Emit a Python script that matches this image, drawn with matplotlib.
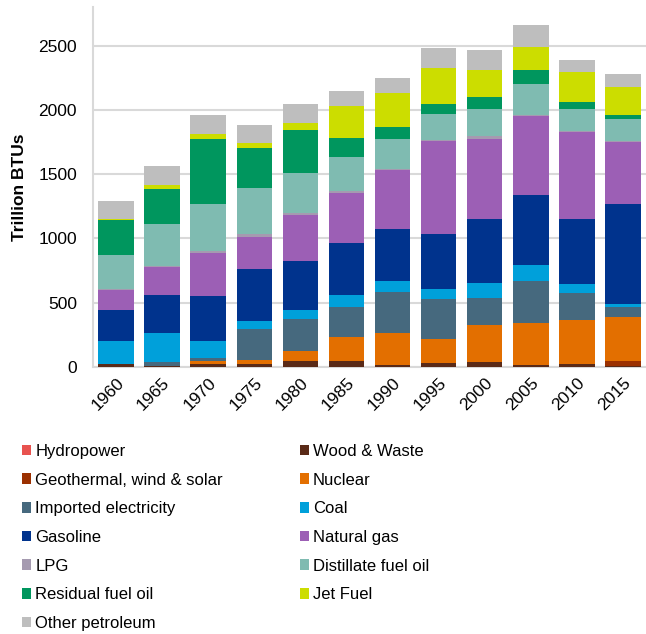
import matplotlib
matplotlib.use("Agg")
import matplotlib.pyplot as plt
import numpy as np

plt.rcParams['font.family'] = ['Liberation Sans', 'DejaVu Sans']

# 年份
years = ['1960', '1965', '1970', '1975', '1980', '1985', '1990', '1995', '2000', '2005', '2010', '2015']

# 各能源消费量 (Trillion BTUs)
hydropower = [0, 0, 0, 0, 0, 0, 0, 0, 0, 0, 0, 0]
wood_waste = [20, 8, 20, 20, 45, 47, 15, 30, 35, 15, 25, 10]
geothermal = [0, 0, 0, 0, 0, 0, 0, 0, 0, 0, 0, 38]
nuclear = [0, 0, 30, 31, 77, 189, 252, 188, 291, 329, 343, 338]
imported_elec = [5, 28, 20, 244, 252, 228, 316, 308, 210, 322, 204, 78]
coal = [175, 231, 132, 60, 69, 98, 83, 77, 119, 129, 73, 23]
gasoline = [245, 290, 350, 409, 379, 401, 406, 430, 498, 539, 508, 777]
natural_gas = [153, 220, 331, 246, 360, 389, 459, 728, 619, 619, 676, 489]
lpg = [5, 10, 18, 26, 18, 18, 8, 5, 25, 5, 5, 5]
distillate = [270, 327, 366, 355, 308, 262, 233, 205, 210, 241, 173, 172]
residual = [269, 269, 510, 311, 339, 150, 98, 78, 91, 109, 55, 33]
jet_fuel = [11, 29, 39, 38, 52, 249, 259, 279, 210, 181, 230, 218]
other_petroleum = [139, 150, 147, 140, 145, 119, 119, 151, 158, 168, 96, 98]

labels = ['Hydropower', 'Wood & Waste', 'Geothermal, wind & solar', 'Nuclear',
          'Imported electricity', 'Coal', 'Gasoline', 'Natural gas', 'LPG',
          'Distillate fuel oil', 'Residual fuel oil', 'Jet Fuel', 'Other petroleum']
series = [hydropower, wood_waste, geothermal, nuclear, imported_elec, coal, gasoline,
          natural_gas, lpg, distillate, residual, jet_fuel, other_petroleum]
colors = ['#E8524F', '#5A2A17', '#9B3000', '#E36F00', '#46697E', '#00A0DA', '#00338D',
          '#9C5FB5', '#A59AB0', '#7FBBB1', '#00965E', '#CCDD00', '#BEBEBE']

fig = plt.figure(figsize=(6.46, 6.34), dpi=100)
ax = fig.add_axes([93 / 646, 1 - 367 / 634, 553 / 646, 360 / 634])

x = np.arange(len(years))
bottom = np.zeros(len(years))
handles = []
for vals, lab, col in zip(series, labels, colors):
    b = ax.bar(x, vals, width=0.77, bottom=bottom, color=col, label=lab, zorder=3)
    handles.append(b)
    bottom += np.array(vals)

ax.set_xlim(-0.5, 11.5)
ax.set_ylim(0, 2800)
ax.set_yticks([0, 500, 1000, 1500, 2000, 2500])
ax.set_xticks(x)
ax.set_xticklabels(years, rotation=45, ha='right', rotation_mode='anchor')
ax.tick_params(axis='both', length=0, labelsize=12.5, colors='#000000')
ax.tick_params(axis='x', pad=6)
ax.tick_params(axis='y', pad=11.5)
ax.yaxis.grid(True, color='#D9D9D9', linewidth=1.5, zorder=0)
ax.set_axisbelow(True)
for s in ['top', 'right']:
    ax.spines[s].set_visible(False)
ax.spines['left'].set_color('#D9D9D9')
ax.spines['left'].set_linewidth(1.5)
ax.spines['bottom'].set_color('#D9D9D9')
ax.spines['bottom'].set_linewidth(1.5)
ax.set_ylabel('Trillion BTUs', fontsize=12.5, fontweight='bold', labelpad=8)

# 图例：按行排列，两列
order = list(range(0, 13, 2)) + list(range(1, 13, 2))
fig.legend([handles[i] for i in order], [labels[i] for i in order],
           ncol=2, loc='upper left', bbox_to_anchor=(22 / 646, 1 - 444 / 634),
           frameon=False, fontsize=12, handlelength=0.55, handleheight=0.6,
           handletextpad=0.25, labelspacing=0.82, columnspacing=4.6,
           borderaxespad=0, borderpad=0)

fig.savefig('out.png', dpi=100)
